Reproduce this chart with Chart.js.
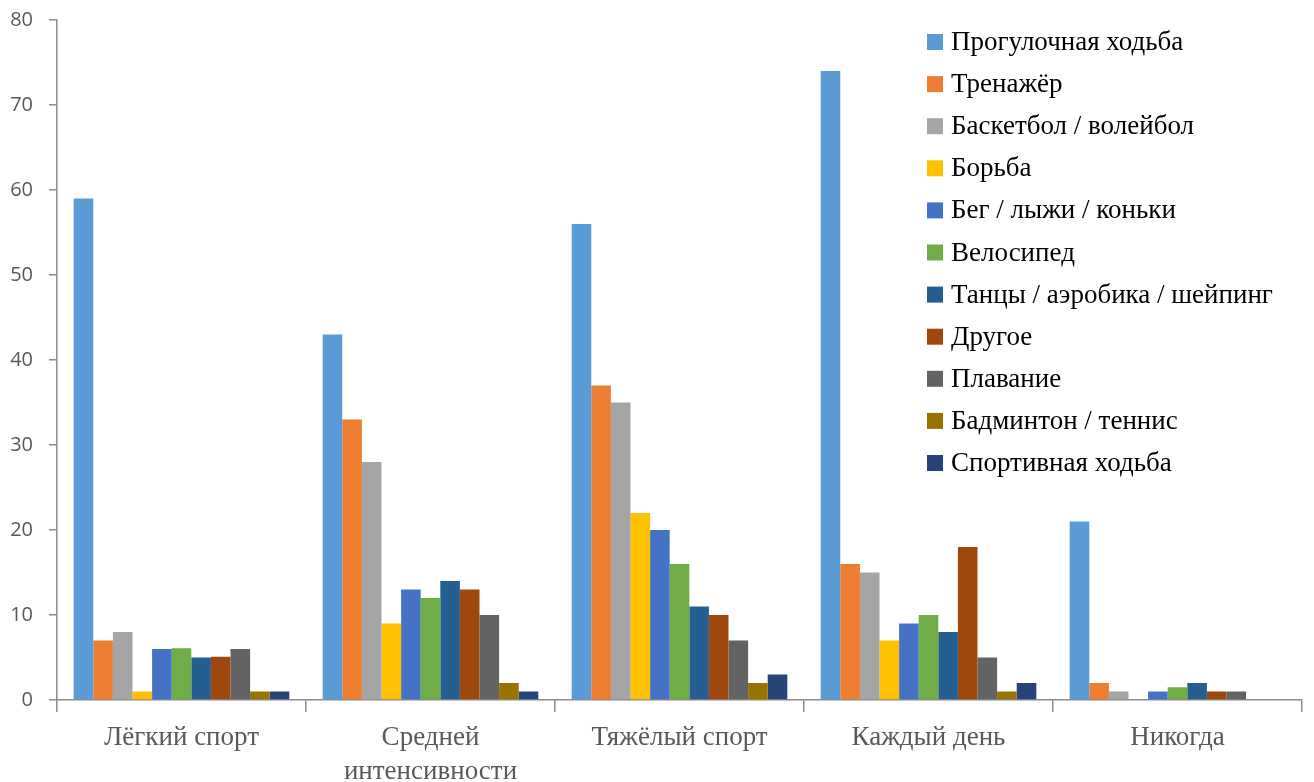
<!DOCTYPE html>
<html>
<head>
<meta charset="utf-8">
<script src="https://cdn.jsdelivr.net/npm/chart.js@4.4.1/dist/chart.umd.min.js"></script>
<style>
html,body{margin:0;padding:0;background:#fff;}
#wrap{position:relative;width:1314px;height:782px;}
</style>
</head>
<body>
<div id="wrap"><canvas id="c" width="1314" height="782"></canvas></div>
<script>
const categories = ['Лёгкий спорт', ['Средней', 'интенсивности'], 'Тяжёлый спорт', 'Каждый день', 'Никогда'];
const seriesNames = ['Прогулочная ходьба', 'Тренажёр', 'Баскетбол / волейбол', 'Борьба', 'Бег / лыжи / коньки', 'Велосипед', 'Танцы / аэробика / шейпинг', 'Другое', 'Плавание', 'Бадминтон / теннис', 'Спортивная ходьба'];
const seriesColors = ['#5B9BD5', '#ED7D31', '#A5A5A5', '#FFC000', '#4472C4', '#70AD47', '#255E91', '#9E480E', '#636363', '#997300', '#264478'];
const walking   = [59, 43, 56, 74, 21];
const trainer   = [7, 33, 37, 16, 2];
const basketball= [8, 28, 35, 15, 1];
const wrestling = [1, 9, 22, 7, 0];
const running   = [6, 13, 20, 9, 1];
const cycling   = [6.1, 12, 16, 10, 1.5];
const dancing   = [5, 14, 11, 8, 2];
const other     = [5.1, 13, 10, 18, 1];
const swimming  = [6, 10, 7, 5, 1];
const badminton = [1, 2, 2, 1, 0];
const raceWalk  = [1, 1, 3, 2, 0];
const yTicks = [0, 10, 20, 30, 40, 50, 60, 70, 80];

const seriesValues = [walking, trainer, basketball, wrestling, running, cycling, dancing, other, swimming, badminton, raceWalk];

const legendPlugin = {
  id: 'customLegend',
  afterDraw(chart) {
    const ctx = chart.ctx;
    ctx.save();
    ctx.font = '27px "Liberation Serif"';
    ctx.textBaseline = 'middle';
    ctx.textAlign = 'left';
    chart.data.datasets.forEach((ds, i) => {
      const y = 42 + i * 42.1;
      ctx.fillStyle = ds.backgroundColor;
      ctx.fillRect(927, y - 8, 16, 16);
      ctx.fillStyle = '#000';
      ctx.fillText(ds.label, 951, y + 1);
    });
    ctx.restore();
  }
};

new Chart(document.getElementById('c'), {
  type: 'bar',
  data: {
    labels: categories,
    datasets: seriesNames.map((n, i) => ({
      label: n,
      data: seriesValues[i],
      backgroundColor: seriesColors[i],
      borderWidth: 0,
      barPercentage: 1,
      categoryPercentage: 0.866
    }))
  },
  options: {
    responsive: false,
    animation: false,
    layout: { padding: { top: 20, right: 12, left: 0, bottom: 0 } },
    plugins: { legend: { display: false }, tooltip: { enabled: false } },
    scales: {
      x: {
        grid: { display: true, drawOnChartArea: false, drawTicks: true, tickLength: 12, color: '#8c8c8c', offset: true, lineWidth: 1.5 },
        border: { display: true, color: '#8c8c8c', width: 1.5 },
        ticks: { color: '#595959', font: { family: '"Liberation Serif"', size: 27, lineHeight: 1.25 }, padding: 9, maxRotation: 0, autoSkip: false },
        afterFit(scale) { scale.height = 82; scale.paddingLeft = 0; scale.paddingRight = 0; }
      },
      y: {
        min: 0, max: 80,
        afterBuildTicks(scale) { scale.ticks = yTicks.map(v => ({ value: v })); },
        grid: { display: true, drawOnChartArea: false, drawTicks: true, tickLength: 8, color: '#8c8c8c', lineWidth: 1.5 },
        border: { display: true, color: '#8c8c8c', width: 1.5 },
        ticks: { color: '#595959', font: { family: '"Open Sans"', size: 20 }, padding: 16 },
        afterFit(scale) { scale.width = 57; scale.paddingTop = 0; scale.paddingBottom = 0; }
      }
    }
  },
  plugins: [legendPlugin]
});
</script>
</body>
</html>
